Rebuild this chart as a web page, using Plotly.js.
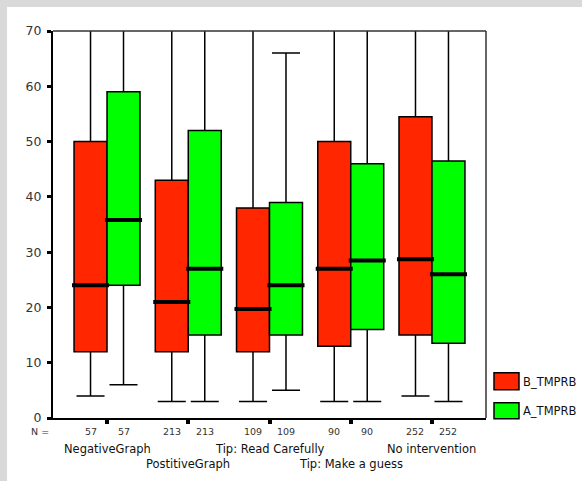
<!DOCTYPE html>
<html>
<head>
<meta charset="utf-8">
<script src="https://cdn.plot.ly/plotly-3.0.1.min.js"></script>
<style>
html,body{margin:0;padding:0;background:#d9d9d9;width:582px;height:481px;overflow:hidden;}
#chart{position:absolute;left:7px;top:7px;width:575px;height:474px;background:#fff;}
</style>
</head>
<body>
<div id="chart"></div>
<script>
// ---- data ----
const categories = ['NegativeGraph', 'PostitiveGraph', 'Tip: Read Carefully', 'Tip: Make a guess', 'No intervention'];
const labelRow = [0, 1, 0, 1, 0];
const seriesNames = ['B_TMPRB', 'A_TMPRB'];
const seriesColors = ['#ff2600', '#00ff00'];

const bLower = [4, 3, 3, 3, 4];
const bQ1 = [12, 12, 12, 13, 15];
const bMedian = [24, 21, 19.7, 27, 28.7];
const bQ3 = [50, 43, 38, 50, 54.5];
const bUpper = [80, 80, 80, 80, 80];
const bN = [57, 213, 109, 90, 252];

const aLower = [6, 3, 5, 3, 3];
const aQ1 = [24, 15, 15, 16, 13.5];
const aMedian = [35.8, 27, 24, 28.5, 26];
const aQ3 = [59, 52, 39, 46, 46.5];
const aUpper = [80, 80, 66, 80, 80];
const aN = [57, 213, 109, 90, 252];

const yTicks = [0, 10, 20, 30, 40, 50, 60, 70];

// ---- build ----
const series = [
  {lower: bLower, q1: bQ1, med: bMedian, q3: bQ3, upper: bUpper, n: bN},
  {lower: aLower, q1: aQ1, med: aMedian, q3: aQ3, upper: aUpper, n: aN}
];

const boxgap = 0.188;
const boxW = (1 - boxgap) / series.length;
const font = 'DejaVu Sans, Verdana, sans-serif';

const traces = series.map((s, t) => ({
  type: 'box',
  name: seriesNames[t],
  x: categories,
  q1: s.q1, median: s.med, q3: s.q3,
  lowerfence: s.lower, upperfence: s.upper,
  fillcolor: seriesColors[t],
  line: {color: '#000', width: 1.5},
  whiskerwidth: 0.85,
  boxpoints: false,
  showlegend: false,
  hoverinfo: 'skip'
}));

const shapes = [];
const annotations = [];

// median bars
series.forEach((s, t) => {
  const off = (t - (series.length - 1) / 2) * boxW;
  const hw = boxW / 2 + 0.025;
  s.med.forEach((m, i) => {
    shapes.push({type: 'line', xref: 'x', yref: 'y',
      x0: i + off - hw, x1: i + off + hw, y0: m, y1: m,
      line: {color: '#000', width: 4}});
    // N counts
    annotations.push({xref: 'x', yref: 'paper', x: i + off, y: -0.036,
      text: String(s.n[i]), showarrow: false, xanchor: 'center', yanchor: 'middle',
      font: {family: font, size: 9.5, color: '#333'}});
  });
});

// top and right frame lines
shapes.push({type: 'line', xref: 'paper', yref: 'paper', x0: 0, x1: 1, y0: 1, y1: 1, line: {color: '#333', width: 1.5}});
shapes.push({type: 'line', xref: 'paper', yref: 'paper', x0: 1, x1: 1, y0: 0, y1: 1, line: {color: '#333', width: 1.5}});

annotations.push({xref: 'paper', yref: 'paper', x: -0.005, y: -0.036, text: 'N =',
  showarrow: false, xanchor: 'right', yanchor: 'middle', font: {family: font, size: 9.5, color: '#333'}});

// category labels (two staggered rows)
categories.forEach((c, i) => {
  annotations.push({xref: 'x', yref: 'paper', x: i, y: labelRow[i] === 0 ? -0.079 : -0.118,
    text: c, showarrow: false, xanchor: 'center', yanchor: 'middle',
    font: {family: font, size: 11.5, color: '#111'}});
});

// custom legend
const legendBoxes = [[0.073, 0.117], [-0.002, 0.0395]];
seriesNames.forEach((nm, t) => {
  const [y0, y1] = legendBoxes[t];
  shapes.push({type: 'rect', xref: 'paper', yref: 'paper', x0: 1.0185, x1: 1.0762, y0: y0, y1: y1,
    fillcolor: seriesColors[t], line: {color: '#000', width: 1.5}});
  annotations.push({xref: 'paper', yref: 'paper', x: 1.08, y: y0 - 0.003, text: nm,
    showarrow: false, xanchor: 'left', yanchor: 'bottom',
    font: {family: font, size: 11.5, color: '#111'}});
});

const layout = {
  width: 575, height: 474,
  margin: {l: 46, r: 96, t: 24, b: 63, pad: 0},
  paper_bgcolor: '#ffffff',
  plot_bgcolor: '#ffffff',
  boxmode: 'group',
  boxgap: boxgap,
  boxgroupgap: 0,
  showlegend: false,
  xaxis: {
    type: 'category',
    categoryorder: 'array', categoryarray: categories,
    range: [-0.665, 4.665],
    showline: true, linecolor: '#000', linewidth: 2,
    ticks: 'outside', ticklen: 4, tickwidth: 4, tickcolor: '#000',
    showticklabels: false, showgrid: false, zeroline: false, fixedrange: true
  },
  yaxis: {
    range: [0, 70],
    tickvals: yTicks, ticktext: yTicks.map(String),
    showline: true, linecolor: '#000', linewidth: 2,
    ticks: 'outside', ticklen: 4, tickwidth: 3, tickcolor: '#000',
    ticklabelstandoff: 3,
    tickfont: {family: font, size: 12.5, color: '#333'},
    showgrid: false, zeroline: false, fixedrange: true
  },
  shapes: shapes,
  annotations: annotations
};

Plotly.newPlot('chart', traces, layout, {displayModeBar: false, staticPlot: true});
</script>
</body>
</html>
